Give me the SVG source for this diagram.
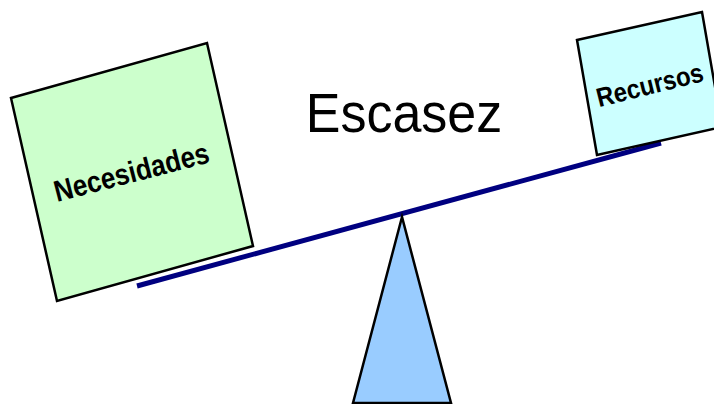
<svg xmlns="http://www.w3.org/2000/svg" width="714" height="404" viewBox="0 0 714 404">
<style>
.box{stroke:#000;stroke-width:2.5;stroke-linejoin:miter}
.lbl{font-family:"Liberation Sans",Arial,sans-serif;font-weight:bold;fill:#000;text-anchor:middle}
</style>
<rect width="714" height="404" fill="#fff"/>
<g id="beam">
<line x1="137" y1="286" x2="661" y2="143" stroke="#000080" stroke-width="5"/>
</g>
<g id="fulcrum">
<polygon points="402,217 353,403 451,403" fill="#99ccff" stroke="#000" stroke-width="2.5"/>
</g>
<g id="necesidades">
<polygon class="box" points="11,98 207,43 253,246 57,301" fill="#ccffcc"/>
<text class="lbl" font-size="26" transform="translate(134,182) rotate(-14.5) scale(1,1.15)">Necesidades</text>
</g>
<g id="recursos">
<polygon class="box" points="577,40 702,12 722,127 597,155" fill="#ccffff"/>
<text class="lbl" font-size="24" transform="translate(652,94) rotate(-14) scale(1,1.12)">Recursos</text>
</g>
<g id="titulo">
<text x="0" y="0" font-family="Liberation Sans,Arial,sans-serif" font-size="52" text-anchor="middle" fill="#000" transform="translate(404,132) scale(1,1.06)">Escasez</text>
</g>
</svg>
